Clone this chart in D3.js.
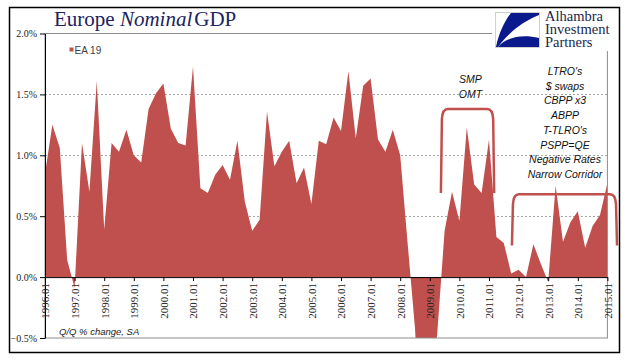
<!DOCTYPE html>
<html>
<head>
<meta charset="utf-8">
<script src="https://cdn.jsdelivr.net/npm/d3@7"></script>
<style>
  body { margin: 0; background: #fff; }
  svg { display: block; }
</style>
</head>
<body>
<svg id="Chart" width="641" height="361"></svg>
<script>
// quarterly Q/Q % change, 1996.01 .. 2015.01
var quarters = d3.range(77);
var gdpValues = [
  0.85, 1.25, 1.06, 0.14, -0.09, 1.10, 0.70, 1.61,
  0.39, 1.10, 1.03, 1.21, 1.00, 0.94, 1.38, 1.51,
  1.59, 1.22, 1.10, 1.08, 1.73, 0.73, 0.69, 0.84,
  0.92, 0.80, 1.12, 0.62, 0.38, 0.47, 1.36, 0.91,
  1.03, 1.12, 0.77, 0.90, 0.60, 1.12, 1.09, 1.31,
  1.20, 1.69, 1.14, 1.57, 1.63, 1.13, 1.03, 1.21,
  1.00, 0.28, -0.42, -1.60, -0.90, -0.47, 0.38, 0.70,
  0.46, 1.23, 0.76, 0.69, 1.13, 0.33, 0.28, 0.03,
  0.06, 0.00, 0.27, 0.11, -0.04, 0.75, 0.29, 0.45,
  0.54, 0.24, 0.42, 0.51, 0.77
];
var yearLabels = ["1996.01", "1997.01", "1998.01", "1999.01", "2000.01", "2001.01",
  "2002.01", "2003.01", "2004.01", "2005.01", "2006.01", "2007.01", "2008.01",
  "2009.01", "2010.01", "2011.01", "2012.01", "2013.01", "2014.01", "2015.01"];
var yTicks = [-0.5, 0, 0.5, 1.0, 1.5, 2.0];
var gridTicks = [0.5, 1.0, 1.5];
var smpLines = ["SMP", "OMT"];
var policyLines = ["LTRO's", "$ swaps", "CBPP x3", "ABPP", "T-TLRO's", "PSPP=QE",
  "Negative Rates", "Narrow Corridor"];
var logoLines = ["Alhambra", "Investment", "Partners"];
// brackets: quarter span, top value, foot value
var brackets = [
  { from: 53.5, to: 60.7, top: 1.38, foot: 0.69 },
  { from: 63.1, to: 77.3, top: 0.68, foot: 0.26 }
];

var red = "#c0504d";
var navy = "#1c2360";
var sans = "Liberation Sans, Arial, sans-serif";
var serif = "Liberation Serif, Times New Roman, serif";

var svg = d3.select("#Chart");
var plot = { left: 45, right: 607.4, top: 33.5, bottom: 338 };

var x = d3.scaleLinear().domain([0, 76]).range([plot.left, plot.right]);
var y = d3.scaleLinear().domain([-0.5, 2.0]).range([plot.bottom, plot.top]);

// outer frame
svg.append("rect")
  .attr("x", 9.5).attr("y", 7.5)
  .attr("width", 610).attr("height", 345)
  .attr("fill", "#fff")
  .attr("stroke", "#000")
  .attr("stroke-width", 1.5);

// dashed gridlines
svg.append("g")
  .selectAll("line")
  .data(gridTicks)
  .enter()
  .append("line")
  .attr("x1", plot.left).attr("x2", plot.right)
  .attr("y1", d => Math.round(y(d)) + 0.5)
  .attr("y2", d => Math.round(y(d)) + 0.5)
  .attr("stroke", "#a6a6a6")
  .attr("stroke-dasharray", "2,2");

svg.append("defs")
  .append("clipPath")
  .attr("id", "plotClip")
  .append("rect")
  .attr("x", plot.left).attr("y", plot.top)
  .attr("width", plot.right - plot.left)
  .attr("height", plot.bottom - plot.top);

var area = d3.area()
  .x((d, i) => x(quarters[i]))
  .y0(y(0))
  .y1(d => y(d));

svg.append("path")
  .datum(gdpValues)
  .attr("clip-path", "url(#plotClip)")
  .attr("fill", red)
  .attr("d", area);

// plot border (grey)
svg.append("rect")
  .attr("x", plot.left).attr("y", plot.top)
  .attr("width", plot.right - plot.left)
  .attr("height", plot.bottom - plot.top)
  .attr("fill", "none")
  .attr("stroke", "#8c8c8c")
  .attr("stroke-width", 1);

// y axis
var yAxis = d3.axisLeft(y)
  .tickValues(yTicks)
  .tickSize(5)
  .tickSizeOuter(0)
  .tickFormat(d => d3.format(".1f")(d) + "%");

svg.append("g")
  .attr("transform", `translate(${plot.left},0)`)
  .call(yAxis)
  .call(g => g.select(".domain").attr("stroke", "#000"))
  .call(g => g.selectAll("text")
    .attr("font-family", serif)
    .attr("font-size", 10)
    .attr("fill", "#222")
    .attr("x", -8));

// x axis on the zero line
var xAxis = d3.axisBottom(x)
  .tickValues(d3.range(0, 77, 4))
  .tickSize(4)
  .tickSizeOuter(0)
  .tickFormat(d => yearLabels[d / 4]);

svg.append("g")
  .attr("transform", `translate(0,${y(0)})`)
  .call(xAxis)
  .call(g => g.select(".domain").attr("stroke", "#000"))
  .selectAll("text")
  .attr("font-family", serif)
  .attr("font-size", 11)
  .attr("fill", "#222")
  .style("text-anchor", "end")
  .attr("x", -6)
  .attr("y", 0)
  .attr("dy", "0.35em")
  .attr("transform", "rotate(-90)");

// legend
svg.append("rect")
  .attr("x", 69.5).attr("y", 47.5)
  .attr("width", 4).attr("height", 4)
  .attr("fill", red);
svg.append("text")
  .attr("x", 74.5).attr("y", 53.5)
  .attr("font-family", sans)
  .attr("font-size", 10)
  .attr("fill", "#404040")
  .text("EA 19");

svg.append("text")
  .attr("x", 59).attr("y", 335)
  .attr("font-family", sans)
  .attr("font-style", "italic")
  .attr("font-size", 9.5)
  .attr("fill", "#222")
  .text("Q/Q % change, SA");

// title
var title = svg.append("text")
  .attr("x", 54).attr("y", 26)
  .attr("font-family", serif)
  .attr("font-size", 21)
  .attr("fill", navy);
title.append("tspan").text("Europe ");
title.append("tspan").attr("font-style", "italic").text("Nominal");
title.append("tspan").attr("dx", 2).text("GDP");

// policy brackets
brackets.forEach(b => {
  var x0 = x(b.from), x1 = x(b.to), yt = y(b.top), yf = y(b.foot);
  var p = d3.path();
  p.moveTo(x0, yf);
  p.lineTo(x0 + 1, yt + 10);
  p.quadraticCurveTo(x0 + 1.5, yt, x0 + 7, yt);
  p.lineTo(x1 - 7, yt);
  p.quadraticCurveTo(x1 - 1.5, yt, x1 - 1, yt + 10);
  p.lineTo(x1, yf);
  svg.append("path")
    .attr("d", p.toString())
    .attr("fill", "none")
    .attr("stroke", red)
    .attr("stroke-width", 2.5);
});

svg.append("g")
  .selectAll("text")
  .data(smpLines)
  .enter()
  .append("text")
  .attr("x", 470.5)
  .attr("y", (d, i) => 83 + i * 14.5)
  .attr("text-anchor", "middle")
  .attr("font-family", sans)
  .attr("font-style", "italic")
  .attr("font-size", 10.5)
  .attr("fill", "#111")
  .text(d => d);

svg.append("g")
  .selectAll("text")
  .data(policyLines)
  .enter()
  .append("text")
  .attr("x", 565)
  .attr("y", (d, i) => 75 + i * 14.7)
  .attr("text-anchor", "middle")
  .attr("font-family", sans)
  .attr("font-style", "italic")
  .attr("font-size", 10.5)
  .attr("fill", "#111")
  .text(d => d);

// logo block over the top right corner
var logo = svg.append("g");
logo.append("rect")
  .attr("x", 492).attr("y", 9)
  .attr("width", 126).attr("height", 42)
  .attr("fill", "#fff");
logo.append("rect")
  .attr("x", 495.5).attr("y", 12.5)
  .attr("width", 44).attr("height", 35)
  .attr("fill", "#fff")
  .attr("stroke", "#d0d0d0");
logo.append("path")
  .attr("d", "M511,13 L539,13 L539,15 C524,21 510,31 498,47 L496,47 C499,33 504,22 511,13 Z")
  .attr("fill", "#0a1a8c");
logo.append("path")
  .attr("d", "M498,47 C507,37 522,34 539,38 L539,47 Z")
  .attr("fill", "#0a1a8c");
logo.selectAll("text.logo")
  .data(logoLines)
  .enter()
  .append("text")
  .attr("class", "logo")
  .attr("x", 545)
  .attr("y", (d, i) => 21 + i * 13)
  .attr("font-family", serif)
  .attr("font-size", 14.5)
  .attr("fill", "#1b1f4b")
  .text(d => d);
</script>
</body>
</html>
